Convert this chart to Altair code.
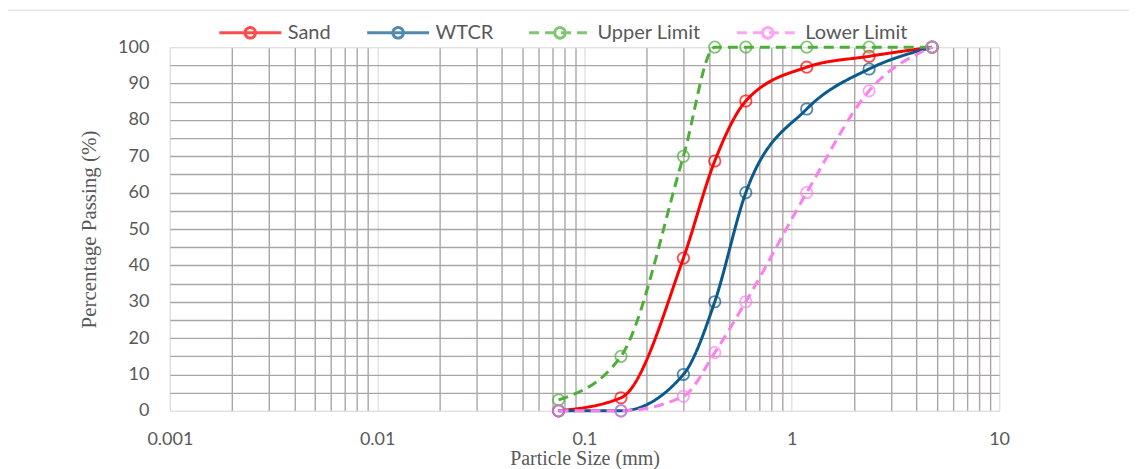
import altair as alt
import pandas as pd

sizes = [0.075, 0.15, 0.3, 0.425, 0.6, 1.18, 2.36, 4.75]
sand = [0, 3.6, 42, 68.7, 85.2, 94.5, 97.5, 100]
wtcr = [0, 0, 10, 30, 60, 83, 94, 100]
upper = [3, 15, 70, 100, 100, 100, 100, 100]
lower = [0, 0, 4, 16, 30, 60, 88, 100]

series_names = ["Sand", "WTCR", "Upper Limit", "Lower Limit"]
series_vals = [sand, wtcr, upper, lower]
colors = ["#ff0000", "#0a5a8c", "#4caf3a", "#fb80ee"]
dashes = [[1, 0], [1, 0], [10, 6], [10, 6]]

x_ticks = [d * m for d in [0.001, 0.01, 0.1, 1] for m in range(1, 10)] + [10]

rows = []
for name, vals in zip(series_names, series_vals):
    for s, v in zip(sizes, vals):
        rows.append({"size": s, "pct": v, "series": name})
df = pd.DataFrame(rows)

dec_test = "indexof([0.001,0.01,0.1,1,10], datum.value) >= 0"

x_enc = alt.X(
    "size:Q",
    scale=alt.Scale(type="log", domain=[0.001, 10]),
    axis=alt.Axis(
        values=x_ticks,
        labelExpr=f"{dec_test} ? '' + datum.value : ''",
        ticks=False,
        domain=False,
        grid=True,
        gridColor={"condition": {"test": dec_test, "value": "#e0e0e0"}, "value": "#aba6a6"},
        gridWidth=1.4,
        labelFlush=False,
        labelPadding=20,
        labelFontSize=18,
        labelColor="#595959",
        labelFont="Lato",
        title="Particle Size (mm)",
        titleFont="Liberation Serif",
        titleFontSize=20,
        titleFontWeight="normal",
        titleColor="#595959",
        titlePadding=0,
        labelOverlap=False,
    ),
)
y_enc = alt.Y(
    "pct:Q",
    scale=alt.Scale(domain=[0, 100], nice=False),
    axis=alt.Axis(
        values=list(range(0, 101, 5)),
        labelExpr="datum.value % 10 == 0 ? datum.label : ''",
        ticks=False,
        domain=False,
        grid=True,
        gridColor={"condition": {"test": "datum.value == 0 || datum.value == 100", "value": "#e0e0e0"}, "value": "#aba6a6"},
        gridWidth=1.4,
        labelFlush=False,
        labelPadding=21,
        labelFontSize=18,
        labelColor="#595959",
        labelFont="Lato",
        title="Percentage Passing (%)",
        titleFont="Liberation Serif",
        titleFontSize=21,
        titleFontWeight="normal",
        titleColor="#595959",
        titlePadding=18,
        labelOverlap=False,
    ),
)

# legend symbol: a line through an open circle; the circle is split into short
# sub-paths so that dashed series still show a solid circle
arc = "A0.17,0.17,0,0,1,"
circ = (
    f"M0.17,0{arc}0.085,0.1472"
    f"M0.085,0.1472{arc}-0.085,0.1472"
    f"M-0.085,0.1472{arc}-0.17,0"
    f"M-0.17,0{arc}-0.085,-0.1472"
    f"M-0.085,-0.1472{arc}0.085,-0.1472"
    f"M0.085,-0.1472{arc}0.17,0"
)
symbol_path = "M-1,0L1,0" + circ

legend = alt.Legend(
    title=None,
    orient="none",
    direction="horizontal",
    legendX=48,
    legendY=-47,
    symbolType=symbol_path,
    symbolSize=3844,
    symbolStrokeWidth=3,
    symbolFillColor="transparent",
    labelFont="Lato",
    labelFontSize=20,
    labelColor="#595959",
    labelOffset=5,
    columnPadding=29,
)

color = alt.Color("series:N", scale=alt.Scale(domain=series_names, range=colors), legend=legend, sort=series_names)
dash = alt.StrokeDash("series:N", scale=alt.Scale(domain=series_names, range=dashes), legend=legend, sort=series_names)

lines = alt.Chart(df).mark_line(interpolate="monotone", strokeWidth=3).encode(
    x=x_enc, y=y_enc, color=color, strokeDash=dash, detail="series:N"
)
points = alt.Chart(df).mark_point(shape="circle", filled=False, size=130, strokeWidth=1.8).encode(
    x=x_enc, y=y_enc, color=color
)

frame_df = pd.DataFrame({"k": [0]})
frame_v = alt.Chart(frame_df).mark_rule(color="#d9d9d9", strokeWidth=1).encode(
    x=alt.value(-163), y=alt.value(-37), y2=alt.value(470)
)
frame_h = alt.Chart(frame_df).mark_rule(color="#d9d9d9", strokeWidth=1).encode(
    x=alt.value(-163), x2=alt.value(1000), y=alt.value(-37)
)

chart = alt.layer(frame_v, frame_h, lines, points).properties(
    width=830,
    height=364,
    autosize=alt.AutoSizeParams(type="none"),
    padding={"left": 162, "top": 39, "right": 130, "bottom": 58},
).configure_view(stroke="#e0e0e0", strokeWidth=1.4).configure(background="white")

chart.save("out.html", embed_options={"renderer": "svg", "actions": False})
